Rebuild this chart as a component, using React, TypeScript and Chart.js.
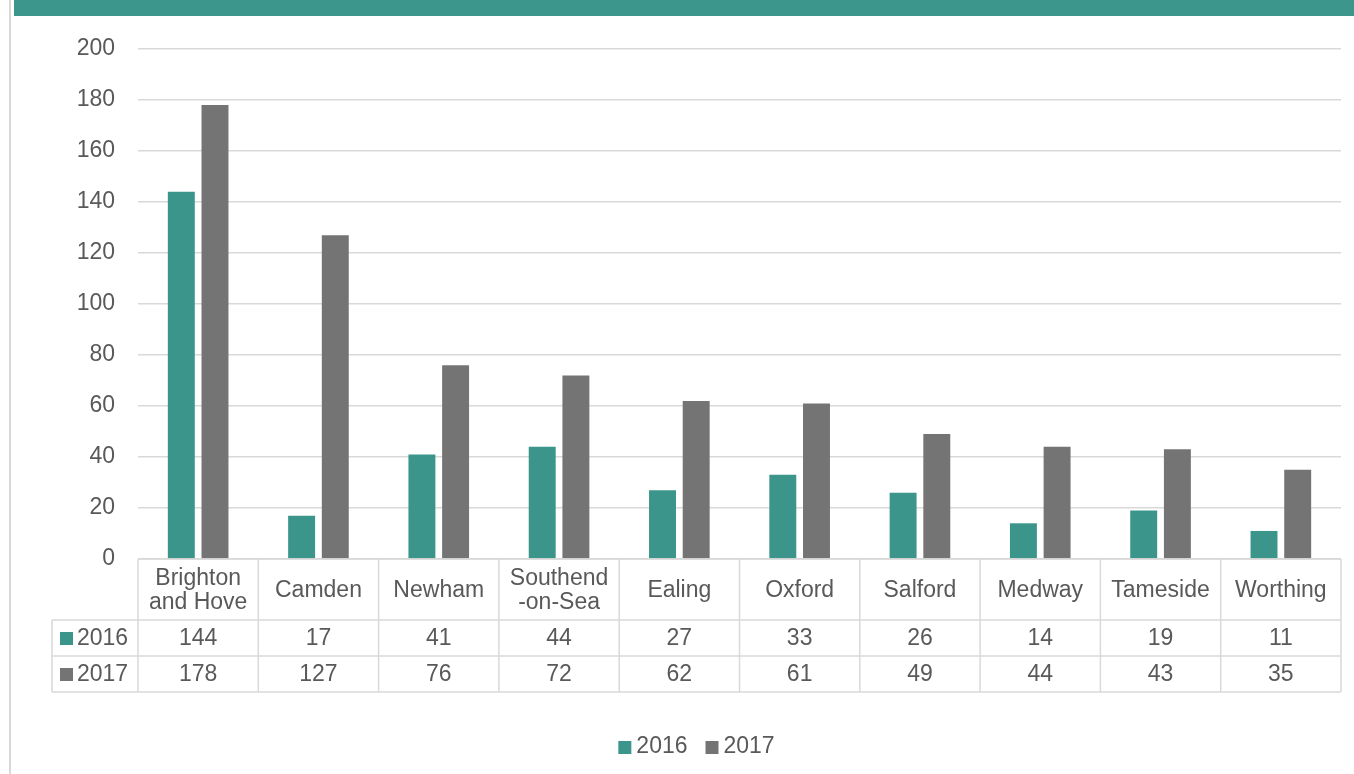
import React, { useEffect, useRef } from 'react';
import { Chart, registerables } from 'chart.js';

Chart.register(...registerables);

const categories: (string | string[])[] = [
  ['Brighton', 'and Hove'],
  'Camden',
  'Newham',
  ['Southend', '-on-Sea'],
  'Ealing',
  'Oxford',
  'Salford',
  'Medway',
  'Tameside',
  'Worthing',
];
const values2016 = [144, 17, 41, 44, 27, 33, 26, 14, 19, 11];
const values2017 = [178, 127, 76, 72, 62, 61, 49, 44, 43, 35];
const seriesLabels = ['2016', '2017'];
const seriesColors = ['#3B958A', '#747474'];
const yMin = 0;
const yMax = 200;
const yStep = 20;

const FONT = '"Liberation Sans", Arial, Helvetica, sans-serif';
const FONT_SIZE = 23;
const TEXT = '#595959';
const GRID = '#d9d9d9';

const HEADER_H = 61;
const ROW_H = 36;
const LEGEND_COL_W = 86;

const framePlugin = {
  id: 'frame',
  beforeDraw(chart: any) {
    const ctx = chart.ctx;
    ctx.save();
    ctx.fillStyle = '#ffffff';
    ctx.fillRect(0, 0, chart.width, chart.height);
    ctx.fillStyle = '#3D968B';
    ctx.fillRect(14, 0, chart.width - 14, 16);
    ctx.strokeStyle = GRID;
    ctx.lineWidth = 2;
    ctx.beginPath();
    ctx.moveTo(10, 0);
    ctx.lineTo(10, chart.height);
    ctx.stroke();
    ctx.restore();
  },
};

const tablePlugin = {
  id: 'dataTable',
  afterDraw(chart: any) {
    const { ctx, chartArea } = chart;
    const xScale = chart.scales.x;
    const n = categories.length;
    const left = chartArea.left;
    const right = chartArea.right;
    const colW = (right - left) / n;
    const top = chartArea.bottom;
    const legendLeft = left - LEGEND_COL_W;
    const bottom = top + HEADER_H + ROW_H * 2;

    ctx.save();
    ctx.strokeStyle = GRID;
    ctx.lineWidth = 1.5;
    const line = (x1: number, y1: number, x2: number, y2: number) => {
      ctx.beginPath();
      ctx.moveTo(x1, y1);
      ctx.lineTo(x2, y2);
      ctx.stroke();
    };
    line(left, top, right, top);
    line(legendLeft, top + HEADER_H, right, top + HEADER_H);
    line(legendLeft, top + HEADER_H + ROW_H, right, top + HEADER_H + ROW_H);
    line(legendLeft, bottom, right, bottom);
    for (let i = 0; i <= n; i++) {
      const x = left + i * colW;
      line(x, top, x, bottom);
    }
    line(legendLeft, top + HEADER_H, legendLeft, bottom);

    ctx.fillStyle = TEXT;
    ctx.font = `${FONT_SIZE}px ${FONT}`;
    ctx.textAlign = 'center';
    ctx.textBaseline = 'middle';
    const lh = 24;
    categories.forEach((cat, i) => {
      const cx = xScale.getPixelForValue(i);
      const lines = Array.isArray(cat) ? cat : [cat];
      const cy = top + HEADER_H / 2 + 1;
      lines.forEach((t, j) => {
        ctx.fillText(t, cx, cy + (j - (lines.length - 1) / 2) * lh);
      });
    });

    const rows = [values2016, values2017];
    rows.forEach((vals, r) => {
      const cy = top + HEADER_H + ROW_H * r + ROW_H / 2 + 1;
      ctx.textAlign = 'center';
      ctx.fillStyle = TEXT;
      vals.forEach((v, i) => {
        ctx.fillText(String(v), xScale.getPixelForValue(i), cy);
      });
      ctx.fillStyle = seriesColors[r];
      ctx.fillRect(legendLeft + 8, cy - 7, 13, 13);
      ctx.fillStyle = TEXT;
      ctx.textAlign = 'left';
      ctx.fillText(seriesLabels[r], legendLeft + 25, cy);
    });

    // bottom legend, centred under the table
    const datasets = chart.data.datasets;
    const box = 13;
    const gap = 5;
    const itemGap = 18;
    const widths = datasets.map((d: any) => box + gap + ctx.measureText(d.label).width);
    const total = widths.reduce((a: number, b: number) => a + b, 0) + itemGap * (datasets.length - 1);
    let x = (legendLeft + right) / 2 - total / 2;
    const ly = bottom + 55;
    datasets.forEach((d: any, i: number) => {
      ctx.fillStyle = d.backgroundColor;
      ctx.fillRect(x, ly - 6, box, box);
      ctx.fillStyle = TEXT;
      ctx.textAlign = 'left';
      ctx.fillText(d.label, x + box + gap, ly);
      x += widths[i] + itemGap;
    });
    ctx.restore();
  },
};

export default function App() {
  const ref = useRef<HTMLCanvasElement>(null);

  useEffect(() => {
    if (!ref.current) return;
    const chart = new Chart(ref.current, {
      type: 'bar',
      data: {
        labels: categories.map((c) => (Array.isArray(c) ? c.join(' ') : c)),
        datasets: [
          {
            label: seriesLabels[0],
            data: values2016,
            backgroundColor: seriesColors[0],
            categoryPercentage: 0.56,
            barPercentage: 0.8,
          },
          {
            label: seriesLabels[1],
            data: values2017,
            backgroundColor: seriesColors[1],
            categoryPercentage: 0.56,
            barPercentage: 0.8,
          },
        ],
      },
      options: {
        animation: false,
        responsive: false,
        maintainAspectRatio: false,
        devicePixelRatio: 1,
        layout: { padding: { left: 0, right: 13, top: 49, bottom: 82 } },
        scales: {
          x: {
            grid: { display: false },
            border: { display: false },
            ticks: { display: false },
            afterFit(scale: any) {
              scale.height = HEADER_H + ROW_H * 2;
            },
          },
          y: {
            min: yMin,
            max: yMax,
            ticks: {
              stepSize: yStep,
              color: TEXT,
              font: { family: FONT, size: FONT_SIZE },
              padding: 23,
            },
            grid: { color: GRID, lineWidth: 1.5, drawTicks: false },
            border: { display: false },
            afterFit(scale: any) {
              scale.width = 138;
            },
          },
        },
        plugins: {
          legend: { display: false },
          tooltip: { enabled: false },
          title: { display: false },
        },
      },
      plugins: [framePlugin, tablePlugin],
    });
    return () => chart.destroy();
  }, []);

  return (
    <div style={{ position: 'absolute', left: 0, top: 0, width: 1354, height: 774 }}>
      <canvas ref={ref} width={1354} height={774} style={{ width: 1354, height: 774, display: 'block' }} />
    </div>
  );
}
